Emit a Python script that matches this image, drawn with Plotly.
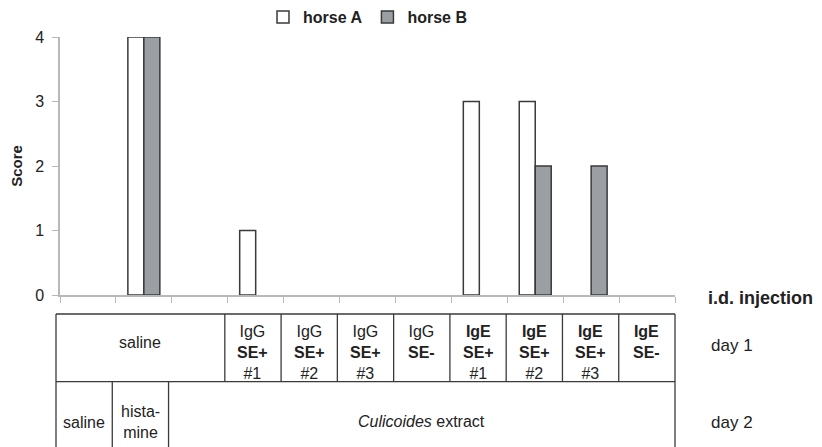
import plotly.graph_objects as go

# ---- data ----
categories = ["saline|saline", "saline|histamine", "saline|Culicoides",
              "IgG SE+ #1", "IgG SE+ #2", "IgG SE+ #3", "IgG SE-",
              "IgE SE+ #1", "IgE SE+ #2", "IgE SE+ #3", "IgE SE-"]
horse_a = [0, 4, 0, 1, 0, 0, 0, 3, 3, 0, 0]
horse_b = [0, 4, 0, 0, 0, 0, 0, 0, 2, 2, 0]
y_ticks = [0, 1, 2, 3, 4]

day1_labels = ["IgG<br><b>SE+</b><br>#1", "IgG<br><b>SE+</b><br>#2", "IgG<br><b>SE+</b><br>#3",
               "IgG<br><b>SE-</b>",
               "<b>IgE</b><br><b>SE+</b><br>#1", "<b>IgE</b><br><b>SE+</b><br>#2",
               "<b>IgE</b><br><b>SE+</b><br>#3", "<b>IgE</b><br><b>SE-</b>"]
day2_labels = ["saline", "hista-<br>mine"]

FONT = "Liberation Sans, Arial, sans-serif"
# page body has an 8px margin, so the figure is drawn 8px in from the window edge
OFF = 8
W, H = 822 - OFF, 447 - OFF
L, R, T, B = 60 - OFF, 147, 37 - OFF, 152
PW, PH = W - L - R, H - T - B


def px(x):
    # window pixel x -> paper coordinate
    return (x - OFF - L) / PW


def py(y):
    # window pixel y -> paper coordinate
    return (H - B - (y - OFF)) / PH


def nz(vals):
    # zero scores draw no bar at all
    return [v if v > 0 else None for v in vals]


fig = go.Figure()
fig.add_trace(go.Bar(x=categories, y=nz(horse_a), name="<b>horse A</b>",
                     marker=dict(color="white", line=dict(color="#3a3a3a", width=1.5))))
fig.add_trace(go.Bar(x=categories, y=nz(horse_b), name="<b>horse B</b>",
                     marker=dict(color="#9b9fa4", line=dict(color="#3a3a3a", width=1.5))))

# ---- table below the axis ----
tl, tr = 56, 675
col = (tr - tl) / len(categories)
t_top, t_mid, t_bot = 314, 381.7, 470
lc = dict(color="#3a3a3a", width=1.3)
shapes = []


def line(x0, y0, x1, y1):
    shapes.append(dict(type="line", xref="paper", yref="paper",
                       x0=px(x0), y0=py(y0), x1=px(x1), y1=py(y1), line=lc))


line(tl, t_top, tr, t_top)
line(tl, t_mid, tr, t_mid)
line(tl, t_top, tl, t_bot)
line(tr, t_top, tr, t_bot)
for k in range(3, len(categories)):
    xb = tl + k * col
    line(xb, t_top, xb, t_mid)
for k in (1, 2):
    xb = tl + k * col
    line(xb, t_mid, xb, t_bot)

ann = []
tf = dict(family=FONT, size=16, color="#222")
ann.append(dict(text="saline", x=px(tl + 1.5 * col), y=py(343), xref="paper", yref="paper",
                showarrow=False, font=tf, xanchor="center", yanchor="middle"))
for i, lab in enumerate(day1_labels):
    ann.append(dict(text=lab, x=px(tl + (3.5 + i) * col), y=py(321), xref="paper", yref="paper",
                    showarrow=False, font=tf, xanchor="center", yanchor="top"))
for i, lab in enumerate(day2_labels):
    ann.append(dict(text=lab, x=px(tl + (0.5 + i) * col), y=py(422), xref="paper", yref="paper",
                    showarrow=False, font=tf, xanchor="center", yanchor="middle"))
ann.append(dict(text="<i>Culicoides</i> extract", x=px((tl + 2 * col + tr) / 2), y=py(421),
                xref="paper", yref="paper", showarrow=False, font=tf,
                xanchor="center", yanchor="middle"))
rf = dict(family=FONT, size=17, color="#222")
ann.append(dict(text="<b>i.d. injection</b>", x=px(706), y=py(298), xref="paper", yref="paper",
                showarrow=False, font=dict(family=FONT, size=18, color="#222"),
                xanchor="left", yanchor="middle"))
ann.append(dict(text="day 1", x=px(709), y=py(345), xref="paper", yref="paper",
                showarrow=False, font=rf, xanchor="left", yanchor="middle"))
ann.append(dict(text="day 2", x=px(709), y=py(422), xref="paper", yref="paper",
                showarrow=False, font=rf, xanchor="left", yanchor="middle"))

fig.update_layout(
    width=W, height=H,
    margin=dict(l=L, r=R, t=T, b=B, pad=0, autoexpand=False),
    paper_bgcolor="white", plot_bgcolor="white",
    barmode="group", bargap=0.428, bargroupgap=0,
    font=dict(family=FONT, color="#222"),
    showlegend=True,
    legend=dict(orientation="h", x=0.5, xanchor="center", y=py(17), yanchor="middle",
                font=dict(family=FONT, size=16, color="#222"), itemwidth=30,
                bgcolor="rgba(0,0,0,0)"),
    shapes=shapes, annotations=ann,
)
fig.update_xaxes(type="category", categoryarray=categories, showticklabels=False,
                 tickson="boundaries", ticks="outside", ticklen=6, tickcolor="#b8b8b8",
                 showline=True, linecolor="#b8b8b8", linewidth=1.5, showgrid=False,
                 zeroline=False, fixedrange=True)
fig.update_yaxes(range=[0, 4], tickvals=y_ticks, ticks="outside", ticklen=6,
                 tickcolor="#b8b8b8", showline=True, linecolor="#b8b8b8", linewidth=1.5,
                 showgrid=False, zeroline=False, ticklabelstandoff=5,
                 tickfont=dict(family=FONT, size=16, color="#222"),
                 title=dict(text="<b>Score</b>", font=dict(family=FONT, size=15, color="#222"),
                            standoff=12), fixedrange=True)

fig.write_html("out.html")
